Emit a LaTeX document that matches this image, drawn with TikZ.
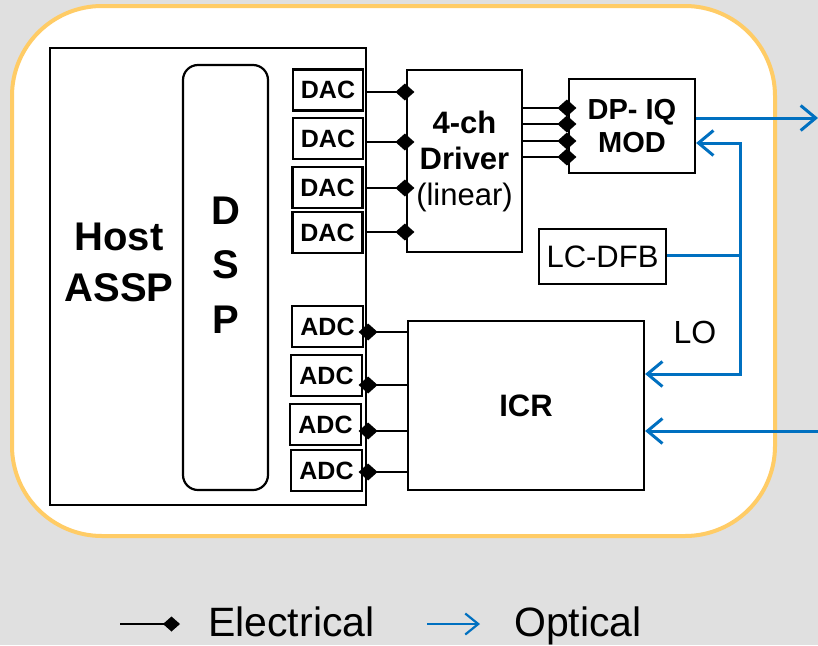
\documentclass[tikz,border=0pt]{standalone}
\usepackage{fontspec}
\setmainfont{Liberation Sans}
\usetikzlibrary{arrows.meta}
\definecolor{bgray}{HTML}{E0E0E0}
\definecolor{frameor}{HTML}{FFCC66}
\definecolor{optblue}{HTML}{0070C0}
\tikzset{
  box/.style={draw, line width=2.2pt, inner sep=0pt, fill=white},
  fb/.style={font=\fontsize{#1}{#1}\selectfont\bfseries},
  fr/.style={font=\fontsize{#1}{#1}\selectfont},
  diam/.tip={Diamond[length=19pt,width=17pt]},
  legdiam/.tip={Diamond[length=17pt,width=15pt]},
  elec/.style={line width=2.2pt, -diam, shorten >=-8.5pt},
  barb/.tip={Straight Barb[length=15pt,width=25pt,line width=3pt]},
  legbarb/.tip={Straight Barb[length=13pt,width=21pt,line width=2.2pt]},
  opt/.style={draw=optblue, line width=3pt, -barb},
  optboth/.style={draw=optblue, line width=3pt, barb-barb},
  txt/.style={inner sep=0pt},
}
\begin{document}
\begin{tikzpicture}[x=1pt,y=-1pt]
\fill[bgray] (0,0) rectangle (818,645);
\useasboundingbox (0,0) rectangle (818,645);
\draw[line width=4pt, draw=frameor, fill=white, rounded corners=90pt] (12,6) rectangle (775,536);

% host
\node[box, minimum width=316pt, minimum height=457pt] (host) at (208,276.5) {};
\node[txt, fb=40, anchor=base] (hostA) at (119,250) {Host};
\node[txt, fb=40, anchor=base] (hostB) at (119,301) {ASSP};
\node[box, rounded corners=15pt, minimum width=85pt, minimum height=425pt] (dsp) at (225.5,277.5) {};
\node[txt, fb=40, anchor=base] (dspD) at (226,224) {D};
\node[txt, fb=40, anchor=base] (dspS) at (226,278.5) {S};
\node[txt, fb=40, anchor=base] (dspP) at (226,333) {P};

% DACs
\foreach \n/\x/\y in {1/328/90, 2/328/138.5, 3/327.5/187.5, 4/327.5/232.5}
  \node[box, fb=25, minimum width=70pt, minimum height=41pt] (dac\n) at (\x,\y) {DAC};
% ADCs
\foreach \n/\x/\y in {1/327.5/326.5, 2/326.5/375.5, 3/325.5/424.5, 4/326.5/470.5}
  \node[box, fb=25, minimum width=71pt, minimum height=41pt] (adc\n) at (\x,\y) {ADC};

% driver
\node[box, minimum width=115pt, minimum height=182pt, align=center,
      font=\fontsize{31}{36}\selectfont] (drv) at (464.5,161)
  {\bfseries 4-ch\\ \bfseries Driver\\ (linear)};
% modulator
\node[box, minimum width=126pt, minimum height=94pt, align=center,
      font=\fontsize{29}{33}\selectfont\bfseries] (mod) at (632,126) {DP- IQ\\ MOD};
% LC-DFB
\node[box, fr=31, minimum width=127pt, minimum height=55pt] (lcdfb) at (602.5,256.5) {LC-DFB};
% ICR
\node[box, fb=31, minimum width=236pt, minimum height=169pt] (icr) at (526,405.5) {ICR};
\node[txt, fr=32, anchor=base] (lo) at (695,343) {LO};

% electrical connectors DAC -> driver
\foreach \y in {92,142,188,232}
  \draw[elec] (host.east |- 0,\y) -- (drv.west |- 0,\y);
% driver -> modulator
\foreach \y in {108,124,141,157}
  \draw[elec] (drv.east |- 0,\y) -- (mod.west |- 0,\y);
% ICR -> ADCs
\foreach \y in {332,385,431,472}
  \draw[elec] (icr.west |- 0,\y) -- (host.east |- 0,\y);

% optical
\coordinate (outR) at (818,118);
\coordinate (inR) at (818,431);
\coordinate (jtop) at (740,143);
\coordinate (jdfb) at (740,255);
\coordinate (jlo) at (740,374);
\draw[opt] (mod.east |- outR) -- (outR);
\draw[optboth, line join=miter] (mod.east |- jtop) -- (jtop) -- (jlo) -- (icr.east |- jlo);
\draw[draw=optblue, line width=3pt] (lcdfb.east |- jdfb) -- (jdfb);
\draw[opt] (inR) -- (icr.east |- inR);

% legend
\coordinate (le1) at (120,624);
\coordinate (le2) at (180,624);
\coordinate (lo1) at (427,624);
\coordinate (lo2) at (480,624);
\draw[line width=2.2pt, -legdiam] (le1) -- (le2);
\draw[draw=optblue, line width=2.2pt, -legbarb] (lo1) -- (lo2);
\node[txt, fr=41, anchor=base west] (legE) at (208,636) {Electrical};
\node[txt, fr=41, anchor=base west] (legO) at (514,636) {Optical};
\end{tikzpicture}
\end{document}
